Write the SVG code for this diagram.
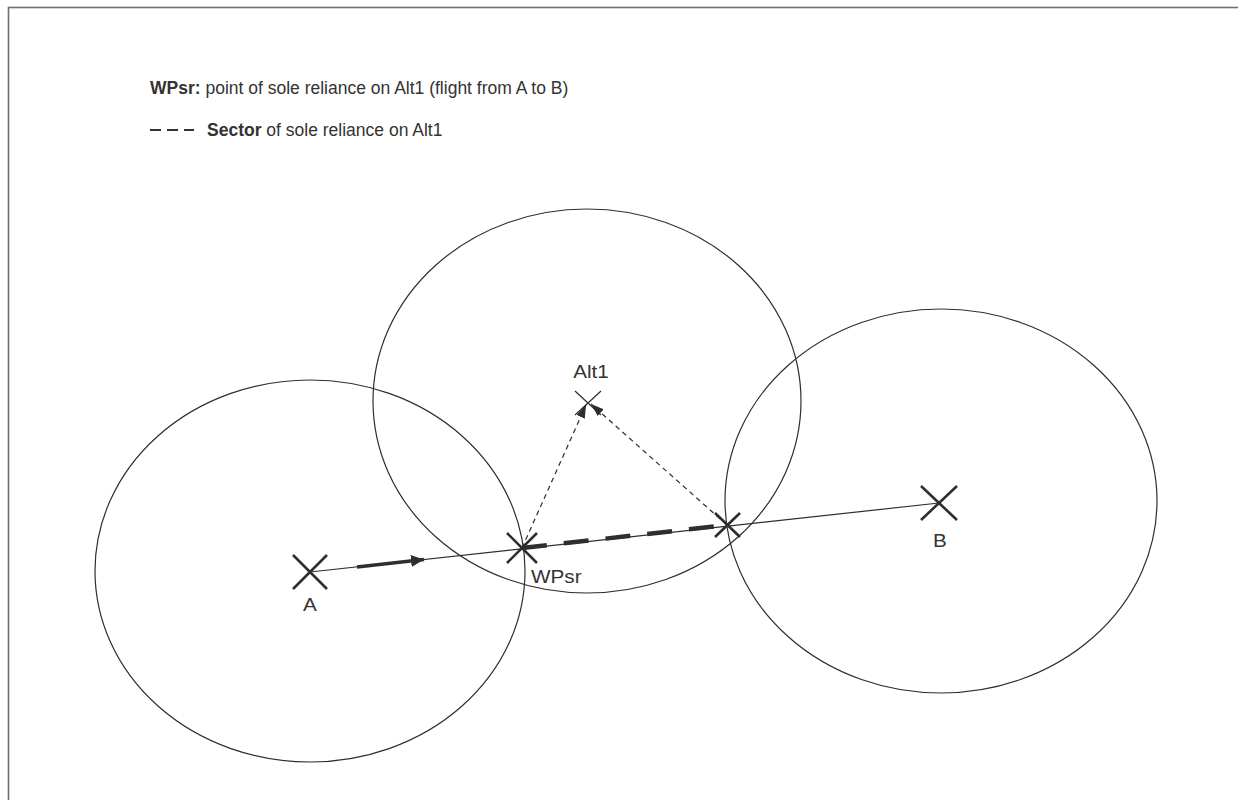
<svg xmlns="http://www.w3.org/2000/svg" width="1238" height="800" viewBox="0 0 1238 800">
<defs>
<style>
.frame{fill:none;stroke:#6e6e6e;stroke-width:1.6}
.ring{fill:none;stroke:#2e2e2e;stroke-width:1.2}
.route{fill:none;stroke:#2e2e2e;stroke-width:1.2}
.bold{fill:none;stroke:#2e2e2e;stroke-width:3.5}
.sector{fill:none;stroke:#2e2e2e;stroke-width:4.5;stroke-dasharray:25 17}
.thin-dash{fill:none;stroke:#2e2e2e;stroke-width:1.2;stroke-dasharray:5 4}
.cross{fill:none;stroke:#2e2e2e;stroke-width:2.6}
.cross-thin{fill:none;stroke:#2e2e2e;stroke-width:1.2}
.leg{font-family:"Liberation Sans",Arial,sans-serif;font-size:17.5px;fill:#333}
.lbl{font-family:"Liberation Sans",Arial,sans-serif;font-size:18.5px;fill:#333}
.b{font-weight:bold}
</style>
<marker id="ah" markerUnits="userSpaceOnUse" markerWidth="14" markerHeight="10" refX="13" refY="4.5" orient="auto">
<path d="M0,0 L13,4.5 L0,9 z" fill="#2e2e2e"/>
</marker>
<marker id="ahb" markerUnits="userSpaceOnUse" markerWidth="14" markerHeight="12" refX="13" refY="6" orient="auto">
<path d="M0,0 L13,6 L0,12 z" fill="#2e2e2e"/>
</marker>
</defs>
<rect class="frame" x="8.5" y="7.5" width="1240" height="800"/>
<g id="legend">
<text class="leg" x="150" y="94"><tspan class="b">WPsr:</tspan> point of sole reliance on Alt1 (flight from A to B)</text>
<path d="M150,130 H161 M167,130 H178 M184,130 H194" stroke="#333" stroke-width="2.2" fill="none"/>
<text class="leg" x="207" y="136"><tspan class="b">Sector</tspan> of sole reliance on Alt1</text>
</g>
<g id="ringA"><ellipse class="ring" cx="310" cy="571" rx="215" ry="191"/></g>
<g id="ringAlt1"><ellipse class="ring" cx="587" cy="401" rx="214" ry="192"/></g>
<g id="ringB"><ellipse class="ring" cx="941" cy="501" rx="216" ry="192"/></g>
<g id="connectors">
<line class="route" x1="310" y1="572" x2="939" y2="503"/>
<line class="bold" x1="357" y1="567" x2="424" y2="559.6" marker-end="url(#ahb)"/>
<line class="sector" x1="522" y1="548" x2="727" y2="525"/>
<line class="thin-dash" x1="522" y1="548" x2="586" y2="405" marker-end="url(#ah)"/>
<line class="thin-dash" x1="727" y1="525" x2="591" y2="404" marker-end="url(#ah)"/>
</g>
<g id="nodeA">
<path class="cross" d="M293,555 L327,589 M327,555 L293,589"/>
<text class="lbl" transform="translate(310,611) scale(1.12,1)" text-anchor="middle">A</text>
</g>
<g id="nodeWPsr">
<path class="cross" d="M507,533 L537,563 M537,533 L507,563"/>
<text class="lbl" transform="translate(531,583) scale(1.12,1)">WPsr</text>
</g>
<g id="nodeP2">
<path class="cross" d="M715,513 L740,537 M740,513 L715,537"/>
</g>
<g id="nodeB">
<path class="cross" d="M921,486 L957,520 M957,486 L921,520"/>
<text class="lbl" transform="translate(940,547) scale(1.12,1)" text-anchor="middle">B</text>
</g>
<g id="nodeAlt1">
<path class="cross-thin" d="M575,391 L601,415 M601,391 L575,415"/>
<text class="lbl" transform="translate(591,378) scale(1.12,1)" text-anchor="middle">Alt1</text>
</g>
</svg>
